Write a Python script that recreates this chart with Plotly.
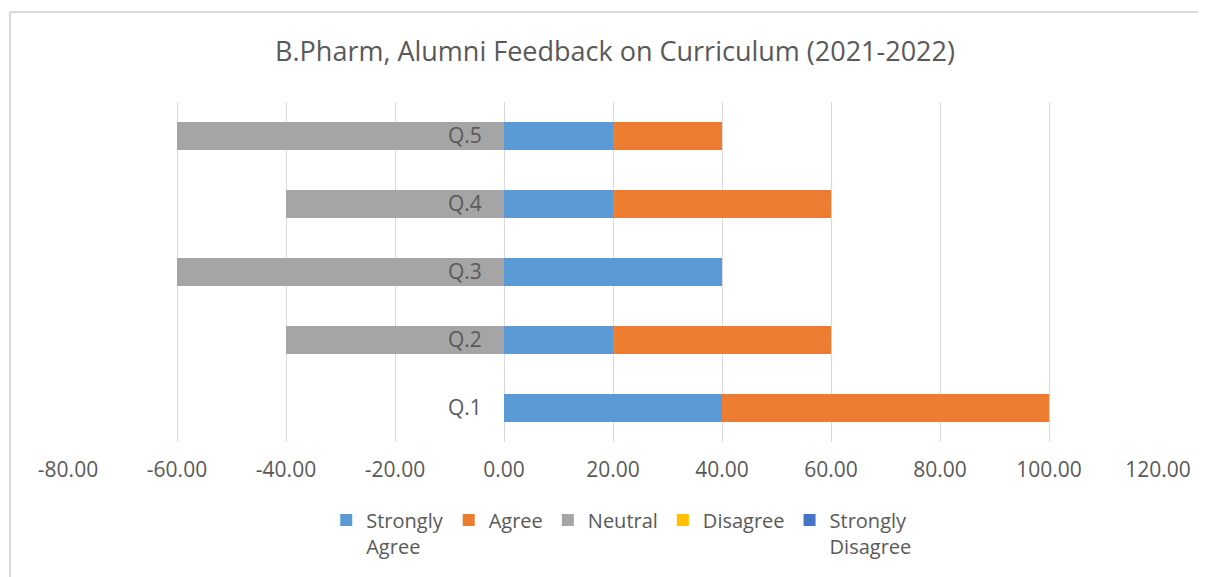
import plotly.graph_objects as go

questions = ["Q.1", "Q.2", "Q.3", "Q.4", "Q.5"]
strongly_agree = [40, 20, 40, 20, 20]
agree = [60, 40, 0, 40, 20]
neutral = [0, -40, -60, -40, -60]
disagree = [0, 0, 0, 0, 0]
strongly_disagree = [0, 0, 0, 0, 0]
x_ticks = [-80, -60, -40, -20, 0, 20, 40, 60, 80, 100, 120]

series = [
    ("Strongly<br>Agree", strongly_agree, "#5b9bd5"),
    ("Agree", agree, "#ed7d31"),
    ("Neutral", neutral, "#a5a5a5"),
    ("Disagree", disagree, "#ffc000"),
    ("Strongly<br>Disagree", strongly_disagree, "#4472c4"),
]

FONT = "Open Sans"
TXT = "#595959"

W, H = 1198, 569
L, R, T, B = 60, 48, 94, 135
PW, PH = W - L - R, H - T - B

fig = go.Figure()
for name, vals, col in series:
    fig.add_trace(go.Bar(y=questions, x=vals, name=name, orientation="h",
                         marker=dict(color=col, line=dict(width=0)), width=0.41))

fig.update_layout(
    width=W, height=H,
    barmode="relative",
    plot_bgcolor="white", paper_bgcolor="white",
    margin=dict(l=L, r=R, t=T, b=B),
    font=dict(family=FONT, color=TXT),
    title=dict(text="B.Pharm, Alumni Feedback on Curriculum (2021-2022)",
               x=(615 - 8) / W, xanchor="center", y=1 - 44 / H, yanchor="middle",
               font=dict(size=27, color=TXT, family=FONT)),
    legend=dict(orientation="h", x=0.508, xanchor="center", y=-0.172, yanchor="top",
                font=dict(size=20, color=TXT, family=FONT), traceorder="normal",
                itemwidth=30, valign="top"),
    showlegend=True,
)
fig.update_xaxes(range=[-80, 120], tickvals=x_ticks,
                 ticktext=[f"{v:.2f}" for v in x_ticks],
                 showgrid=True, gridcolor="#d9d9d9", gridwidth=1.3,
                 zeroline=False, showline=False,
                 ticks="outside", ticklen=0, ticklabelstandoff=9,
                 tickfont=dict(size=21, color=TXT, family=FONT))
fig.update_yaxes(categoryorder="array", categoryarray=questions,
                 range=[-0.5, 4.5], anchor="free", position=0.4,
                 showgrid=False, zeroline=False, showline=False,
                 ticks="outside", ticklen=0, ticklabelstandoff=18,
                 tickfont=dict(size=21, color=TXT, family=FONT))

# chart frame (left and top edges visible in the crop)
fx = (2 - L) / PW
fy = (T + PH - 4) / PH
fig.add_shape(type="line", xref="paper", yref="paper",
              x0=fx, x1=fx, y0=-(B + 10) / PH, y1=fy,
              line=dict(color="#d9d9d9", width=2))
fig.add_shape(type="line", xref="paper", yref="paper",
              x0=fx, x1=(W + 10 - L) / PW, y0=fy, y1=fy,
              line=dict(color="#d9d9d9", width=2))

fig.write_html("out.html")
